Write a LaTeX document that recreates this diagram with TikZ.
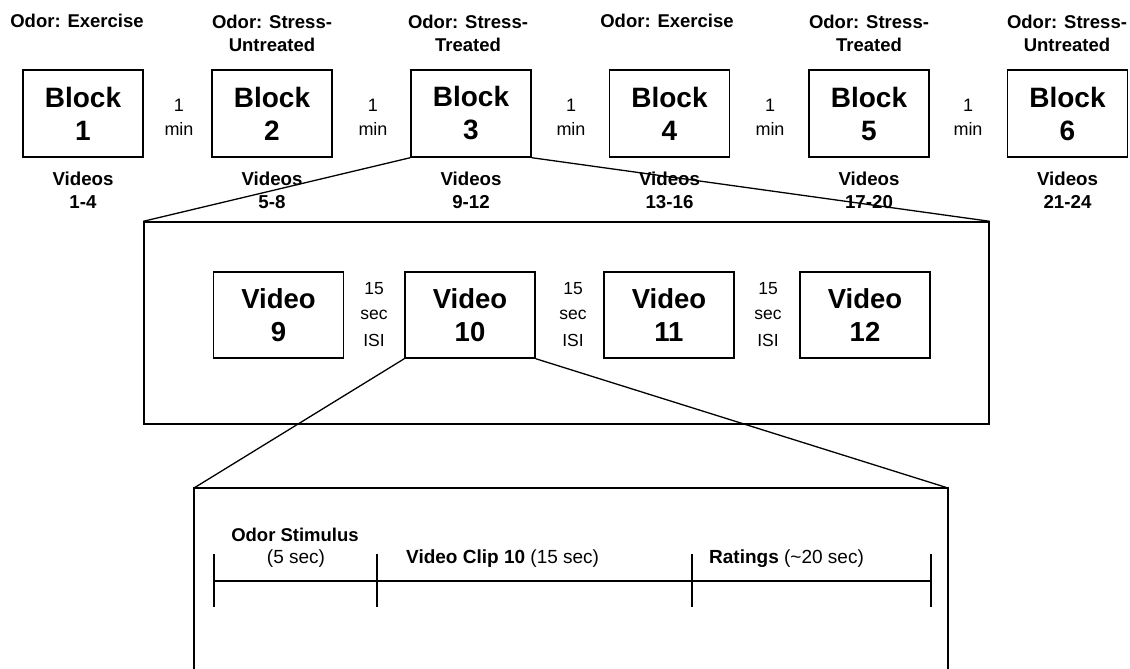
\documentclass[tikz,border=0pt]{standalone}
\usepackage{fontspec}
\setmainfont{Liberation Sans}
\begin{document}
\begin{tikzpicture}[x=1pt,y=1pt,
  blockbox/.style={draw,line width=1.4pt,minimum width=120pt,minimum height=87pt,inner sep=0pt,align=center,font=\bfseries\fontsize{28}{33}\selectfont},
  videobox/.style={draw,line width=1.4pt,minimum width=130pt,minimum height=86pt,inner sep=0pt,align=center,font=\bfseries\fontsize{27.5}{33}\selectfont},
  odorlbl/.style={align=center,inner sep=0pt,font=\bfseries\fontsize{18.5}{23}\selectfont},
  vidlbl/.style={align=center,inner sep=0pt,font=\bfseries\fontsize{18.7}{23}\selectfont},
  gaplbl/.style={align=center,inner sep=0pt,font=\fontsize{18}{24}\selectfont},
  isilbl/.style={align=center,inner sep=0pt,font=\fontsize{17.5}{25}\selectfont},
  tllbl/.style={inner sep=0pt,font=\fontsize{19}{22}\selectfont},
  conn/.style={line width=1.3pt},
  frame/.style={line width=1.4pt}]
\useasboundingbox (0,0) rectangle (1130,-669);
% blocks
\node[blockbox] (b1) at (83,-113.5) {Block\\1};
\node[blockbox] (b2) at (272,-113.5) {Block\\2};
\node[blockbox] (b3) at (471,-113.5) {Block\\3};
\node[blockbox] (b4) at (669.5,-113.5) {Block\\4};
\node[blockbox] (b5) at (869,-113.5) {Block\\5};
\node[blockbox] (b6) at (1067.5,-113.5) {Block\\6};
% odor labels
\node[odorlbl] (o1) at (77,-21) {Odor: Exercise};
\node[odorlbl] (o2) at (272,-33) {Odor: Stress-\\Untreated};
\node[odorlbl] (o3) at (468,-33) {Odor: Stress-\\Treated};
\node[odorlbl] (o4) at (667,-21) {Odor: Exercise};
\node[odorlbl] (o5) at (869,-33) {Odor: Stress-\\Treated};
\node[odorlbl] (o6) at (1067,-33) {Odor: Stress-\\Untreated};
% video labels
\node[vidlbl] (v1) at (83,-190.5) {Videos\\1-4};
\node[vidlbl] (v2) at (272,-190.5) {Videos\\5-8};
\node[vidlbl] (v3) at (471,-190.5) {Videos\\9-12};
\node[vidlbl] (v4) at (669.5,-190.5) {Videos\\13-16};
\node[vidlbl] (v5) at (869,-190.5) {Videos\\17-20};
\node[vidlbl] (v6) at (1067.5,-190.5) {Videos\\21-24};
% gaps
\node[gaplbl] (g1) at (179,-117) {1\\min};
\node[gaplbl] (g2) at (373,-117) {1\\min};
\node[gaplbl] (g3) at (571,-117) {1\\min};
\node[gaplbl] (g4) at (770,-117) {1\\min};
\node[gaplbl] (g5) at (968,-117) {1\\min};
% middle box
\node[draw,frame,minimum width=845pt,minimum height=202pt,inner sep=0pt] (mid) at (566.5,-323) {};
\draw[conn] (b3.south west) -- (mid.north west);
\draw[conn] (b3.south east) -- (mid.north east);
\node[videobox] (vd9) at (278.5,-315) {Video\\9};
\node[videobox] (vd10) at (470,-315) {Video\\10};
\node[videobox] (vd11) at (669,-315) {Video\\11};
\node[videobox] (vd12) at (865,-315) {Video\\12};
\node[isilbl] (i1) at (374,-315) {15\\sec\\[2pt]ISI};
\node[isilbl] (i2) at (573,-315) {15\\sec\\[2pt]ISI};
\node[isilbl] (i3) at (768,-315) {15\\sec\\[2pt]ISI};
% bottom box
\coordinate (bnw) at (194,-488);
\coordinate (bne) at (948,-488);
\coordinate (bsw) at (194,-672);
\coordinate (bse) at (948,-672);
\draw[frame] (bsw) -- (bnw) -- (bne) -- (bse);
\draw[conn] (vd10.south west) -- (bnw);
\draw[conn] (vd10.south east) -- (bne);
% timeline
\coordinate (t0) at (214,-581);
\coordinate (t1) at (377,-581);
\coordinate (t2) at (692,-581);
\coordinate (t3) at (931,-581);
\draw[conn] (t0) -- (t3);
\foreach \t in {t0,t1,t2,t3} \draw[conn] ([yshift=27pt]\t) -- ([yshift=-26pt]\t);
\node[tllbl,font=\bfseries\fontsize{18.5}{22}\selectfont] (os) at (295,-535) {Odor Stimulus};
\node[tllbl] (os2) at (296,-559) {(5 sec)};
\node[tllbl,anchor=west] (vc) at (406,-559) {\textbf{Video Clip 10} (15 sec)};
\node[tllbl,anchor=west] (rt) at (709,-559) {\textbf{Ratings} (\textasciitilde 20 sec)};
\end{tikzpicture}
\end{document}
